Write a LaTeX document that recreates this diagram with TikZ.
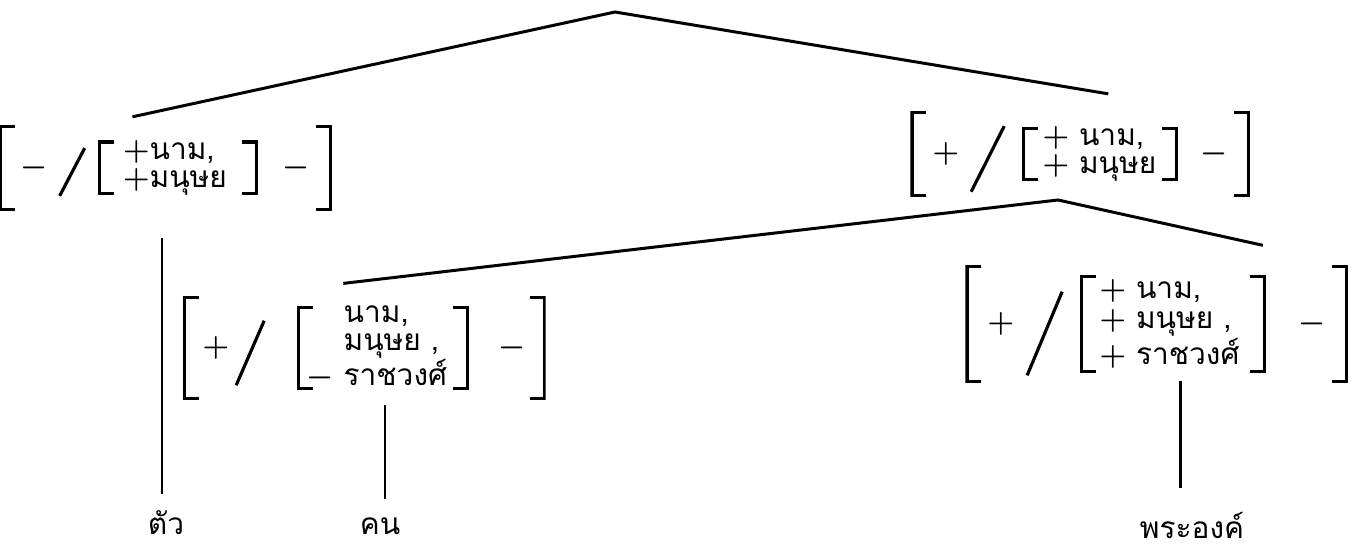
\documentclass[tikz,border=0pt]{standalone}
\usepackage{fontspec}
\usepackage{bm}
\newfontfamily\thaifont[Script=Thai]{Loma}
\usetikzlibrary{positioning,calc,fit}

\begin{document}
\begin{tikzpicture}[
    x=0.02cm, y=-0.02cm,
    font=\thaifont\fontsize{17}{16}\selectfont,
    brk/.style={
        path picture={
            \draw[line width=1.8pt]
                ([xshift=0.32cm,yshift=-0.9pt]path picture bounding box.north west)
                -- ([xshift=0.9pt,yshift=-0.9pt]path picture bounding box.north west)
                -- ([xshift=0.9pt,yshift=0.9pt]path picture bounding box.south west)
                -- ([xshift=0.32cm,yshift=0.9pt]path picture bounding box.south west);
            \draw[line width=1.8pt]
                ([xshift=-0.32cm,yshift=-0.9pt]path picture bounding box.north east)
                -- ([xshift=-0.9pt,yshift=-0.9pt]path picture bounding box.north east)
                -- ([xshift=-0.9pt,yshift=0.9pt]path picture bounding box.south east)
                -- ([xshift=-0.32cm,yshift=0.9pt]path picture bounding box.south east);
        }
    },
    rows/.style={brk, align=left, inner ysep=0pt},
    bundle/.style={brk, inner xsep=0.4cm, inner ysep=0.3cm},
    sign/.style={inner sep=1pt},
    slash/.style={line width=1.8pt},
    word/.style={inner sep=1pt},
    branch/.style={line width=1.7pt},
    stem/.style={line width=1.7pt}
]
\useasboundingbox (0,0) rectangle (1353,553);

% --- Top left: [ - / [+nam, +manut] - ] ---
\node[rows, text width=2.2cm, inner xsep=0.5cm, minimum height=1.1cm] (lrows) at (178,168)
    {$\bm{+}$นาม,\\$\bm{+}$มนุษย};
\node[sign, left=0.95cm of lrows] (lsign) {$\bm{-}$};
\node[sign, right=0.45cm of lrows] (ltrail) {$\bm{-}$};
\node[bundle, fit=(lsign)(lrows)(ltrail)] (lfeat) {};
\draw[slash] ($(lrows.south west)+(-38,0)$) -- ($(lrows.north west)+(-13,8)$);

% --- Top right ---
\node[rows, text width=2.3cm, inner xsep=0.42cm, minimum height=1.04cm] (rrows) at (1100,154)
    {$\bm{+}$ นาม,\\$\bm{+}$ มนุษย};
\node[sign, left=1.2cm of rrows] (rsign) {$\bm{+}$};
\node[sign, right=0.4cm of rrows] (rtrail) {$\bm{-}$};
\node[bundle, fit=(rsign)(rrows)(rtrail)] (rfeat) {};
\draw[slash] ($(rrows.south west)+(-50,10)$) -- ($(rrows.north west)+(-17,0)$);

% --- Second level left ---
\node[rows, text width=3.06cm, inner xsep=0.2cm, minimum height=1.6cm,
      font=\thaifont\fontsize{17}{15.5}\selectfont] (crows) at (383,348)
    {\hphantom{$\bm{-}$\ }นาม,\\\hphantom{$\bm{-}$\ }มนุษย ,\\$\bm{-}$ ราชวงศ์};
\node[sign, left=1.3cm of crows] (csign) {$\bm{+}$};
\node[sign, right=0.54cm of crows] (ctrail) {$\bm{-}$};
\node[bundle, inner xsep=0.35cm, inner ysep=0.2cm, fit=(csign)(crows)(ctrail)] (cfeat) {};
\draw[slash] ($(crows.south west)+(-60,-5)$) -- ($(crows.north west)+(-32,15)$);

% --- Second level right ---
\node[rows, text width=2.94cm, inner xsep=0.4cm, minimum height=1.96cm,
      font=\thaifont\fontsize{17}{17}\selectfont] (drows) at (1173,324)
    {$\bm{+}$ นาม,\\$\bm{+}$ มนุษย ,\\$\bm{+}$ ราชวงศ์};
\node[sign, left=1.26cm of drows] (dsign) {$\bm{+}$};
\node[sign, right=0.6cm of drows] (dtrail) {$\bm{-}$};
\node[bundle, inner ysep=0.2cm, fit=(dsign)(drows)(dtrail)] (dfeat) {};
\draw[slash] ($(drows.south west)+(-52,2)$) -- ($(drows.north west)+(-17,17)$);

% --- Words ---
\node[word] (tua) at (166,523) {ตัว};
\node[word] (khon) at (380,526) {คน};
\node[word] (phra) at (1192,525) {พระองค์};

% --- Branches ---
\coordinate (root) at (615,12);
\coordinate (rjoin) at (1058,200);
\draw[branch] ($(lfeat.north)+(-33,-8)$) -- (root) -- ($(rfeat.north)+(28,-17)$);
\draw[branch] ($(cfeat.north)+(-21,-12)$) -- (rjoin) -- ($(dfeat.north)+(106,-19)$);

\draw[stem] ($(tua.north)+(-4,-15)$) -- ($(tua.north |- lfeat.south)+(-4,27)$);
\draw[stem] ($(khon.north)+(5,-16)$) -- ($(khon.north |- cfeat.south)+(5,4)$);
\draw[stem] ($(phra.north)+(-12,-22)$) -- ($(phra.north |- dfeat.south)+(-12,-3)$);

\end{tikzpicture}
\end{document}
